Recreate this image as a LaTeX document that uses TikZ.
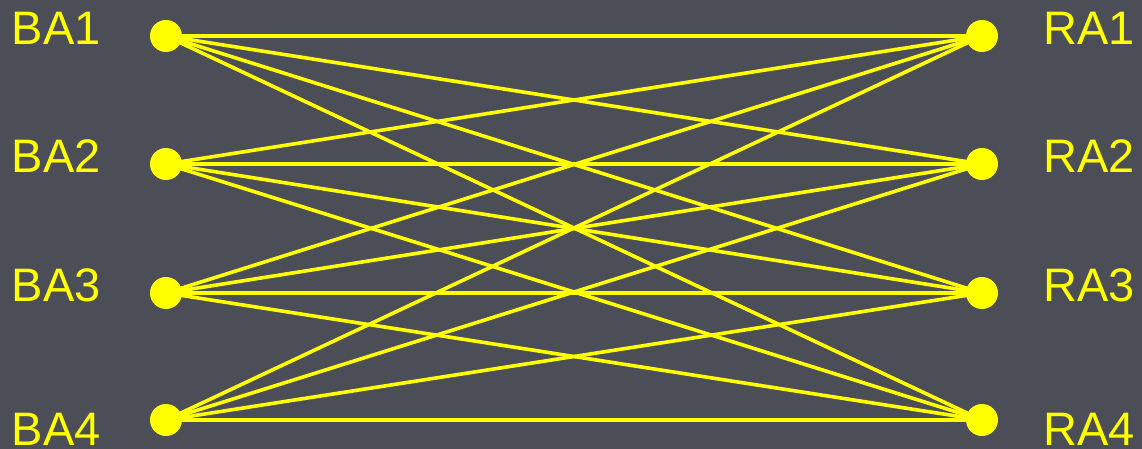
\documentclass[tikz,border=0pt]{standalone}
\usepackage{fontspec}
\setmainfont{Liberation Sans}
\definecolor{bgc}{RGB}{75,78,86}
\definecolor{ylw}{RGB}{255,255,0}
\begin{document}
\begin{tikzpicture}[x=1pt,y=-1pt,
  dotnode/.style={circle,fill=ylw,inner sep=0pt,minimum size=32pt},
  lbl/.style={anchor=base west,inner sep=0pt,text=ylw,font=\fontsize{47}{50}\selectfont},
  edge/.style={draw=ylw,line width=3.6pt}]
\fill[bgc] (0,0) rectangle (1142,449);
\useasboundingbox (0,0) rectangle (1142,449);
\node[dotnode] (b1) at (166,36) {};
\node[dotnode] (b2) at (166,164) {};
\node[dotnode] (b3) at (166,293) {};
\node[dotnode] (b4) at (166,420) {};
\node[dotnode] (r1) at (982,36) {};
\node[dotnode] (r2) at (982,164) {};
\node[dotnode] (r3) at (982,293) {};
\node[dotnode] (r4) at (982,420) {};
\node[lbl] (lb1) at (11.6,44.5) {BA1};
\node[lbl] (lb2) at (11.6,173) {BA2};
\node[lbl] (lb3) at (11.6,301) {BA3};
\node[lbl] (lb4) at (11.6,445) {BA4};
\node[lbl] (lr1) at (1043,44.5) {RA1};
\node[lbl] (lr2) at (1043,173) {RA2};
\node[lbl] (lr3) at (1043,301) {RA3};
\node[lbl] (lr4) at (1043,445) {RA4};
\foreach \i in {1,...,4}{
  \foreach \j in {1,...,4}{
    \draw[edge] (b\i.center) -- (r\j.center);
  }
}
\end{tikzpicture}
\end{document}
